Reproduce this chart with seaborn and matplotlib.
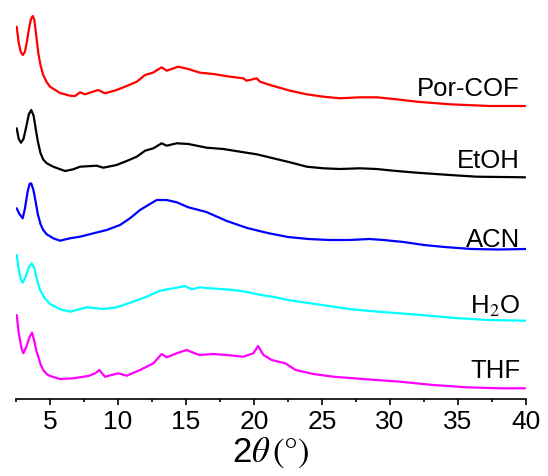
import numpy as np
import pandas as pd
import matplotlib
matplotlib.use("Agg")
import matplotlib.pyplot as plt
import seaborn as sns
from matplotlib.ticker import MultipleLocator

# ---- PXRD patterns (2-theta in degrees, intensity in a.u. above each trace's offset) ----
por_cof_2theta = [2.55, 2.7, 2.85, 3.0, 3.15, 3.3, 3.45, 3.6, 3.73, 3.85, 4.0, 4.15, 4.3,
                  4.5, 4.75, 5.0, 5.74, 6.47, 6.84, 7.21, 7.57, 8.55, 9.04,
                  9.9, 10.64, 11.38, 11.99, 12.57, 13.21, 13.58, 14.43, 15.17, 16.03, 17.0,
                  18.24, 19.21, 19.46, 20.2, 20.44, 21.18, 22.65, 23.88, 25.1, 26.32, 27.79,
                  29.02, 30.49, 31.96, 34.41, 37.35, 39.93]
por_cof_int = [82.3, 66.0, 57.0, 54.0, 57.0, 67.0, 80.0, 90.0, 93.0, 89.0, 72.0, 55.0, 44.0,
               34.0, 27.0, 22.3, 16.0, 13.3, 13.0, 16.7, 14.7, 19.0, 15.7,
               19.0, 23.0, 27.3, 34.0, 36.3, 41.7, 38.3, 42.3, 40.0, 36.3, 35.0,
               32.3, 30.7, 28.3, 30.7, 27.3, 24.0, 18.3, 14.7, 12.3, 10.7, 11.7,
               11.7, 9.7, 7.3, 4.7, 3.0, 3.0]

etoh_2theta = [2.55, 2.7, 2.87, 3.05, 3.25, 3.45, 3.62, 3.8, 3.95, 4.1, 4.3, 4.5, 4.76,
               5.24, 6.1, 6.71, 7.21, 8.43, 8.92, 9.9,
               10.64, 11.38, 11.99, 12.6, 13.21, 13.58, 14.32, 15.17, 15.54, 16.52, 17.74,
               18.97, 20.2, 21.42, 22.65, 23.88, 25.1, 26.32, 27.79, 29.02, 30.24, 31.96,
               34.41, 36.38, 39.93]
etoh_int = [50.7, 40.0, 36.3, 40.0, 52.0, 65.0, 69.0, 63.0, 50.0, 38.0, 26.0, 19.5, 15.7,
            12.3, 8.0, 9.7, 12.3, 13.3, 11.3, 14.0,
            18.0, 22.3, 28.3, 30.7, 35.7, 33.3, 35.7, 35.0, 34.0, 31.3, 30.0,
            27.3, 24.7, 20.7, 16.7, 12.3, 10.7, 10.0, 10.7, 10.0, 8.3, 6.3,
            4.0, 2.3, 1.7]

acn_2theta = [2.55, 2.75, 2.99, 3.15, 3.35, 3.5, 3.62, 3.78, 3.95, 4.1, 4.3, 4.5, 4.76,
              5.24, 5.74, 6.47, 7.21, 8.19, 9.17, 10.15,
              10.88, 11.62, 12.35, 12.85, 13.58, 14.32, 15.17, 16.5, 18.0, 19.5, 21.0,
              22.5, 24.0, 25.5, 27.0, 28.5, 29.5, 31.0, 32.5, 34.0, 36.0, 38.0, 40.0]
acn_int = [45.7, 40.0, 35.7, 45.0, 62.0, 70.0, 70.7, 64.0, 52.0, 40.0, 30.0, 24.0, 19.7,
           15.7, 13.3, 15.7, 17.3, 20.7, 24.0, 29.0,
           35.7, 44.0, 50.0, 54.0, 54.0, 51.7, 46.7, 42.0, 33.0, 26.0, 21.0,
           17.0, 15.0, 14.0, 14.0, 15.0, 14.0, 12.0, 9.0, 7.0, 5.0, 4.5, 5.0]

h2o_2theta = [2.55, 2.7, 2.85, 2.99, 3.2, 3.45, 3.65, 3.85, 4.05, 4.26, 4.6, 5.0, 5.74,
              6.47, 7.7, 8.92, 9.9, 11.12, 12.11, 13.09,
              14.07, 14.93, 15.42, 16.03, 16.5, 17.5, 18.5, 19.5, 20.5, 21.5, 22.5, 24.0,
              25.5, 27.0, 28.5, 29.9, 32.3, 34.8, 37.2, 40.0]
h2o_int = [69.0, 55.0, 45.0, 41.3, 47.0, 57.0, 60.7, 56.0, 44.0, 34.0, 26.0, 20.0, 14.7,
           12.3, 16.7, 15.0, 16.7, 22.3, 27.3, 33.3,
           35.7, 38.0, 34.7, 36.7, 36.0, 35.0, 34.0, 32.0, 29.0, 27.0, 24.0, 21.0,
           18.0, 15.0, 13.0, 11.5, 9.0, 6.0, 4.0, 3.3]

thf_2theta = [2.55, 2.7, 2.9, 3.04, 3.25, 3.5, 3.68, 3.85, 4.0, 4.14, 4.3, 4.5, 4.75, 5.0,
              5.74, 6.72, 7.81, 8.3, 8.62, 9.04, 10.02, 10.64,
              11.62, 12.6, 13.21, 13.58, 14.43, 15.05, 15.78, 16.03, 17.0, 17.99, 19.21,
              19.95, 20.3, 20.7, 21.3, 22.3, 23.06, 24.36, 25.83, 28.29, 30.74, 33.18,
              35.64, 38.09, 39.93]
thf_int = [84.0, 66.0, 51.0, 45.7, 52.0, 62.0, 66.3, 58.0, 48.0, 42.3, 35.0, 29.0, 25.0, 23.0,
           20.0, 20.7, 23.0, 25.5, 29.0, 22.3, 25.7, 23.3,
           29.0, 35.7, 45.0, 41.7, 46.3, 49.0, 45.0, 44.0, 45.0, 44.0, 42.3,
           45.7, 53.0, 44.0, 39.0, 35.7, 29.0, 25.0, 22.3, 19.7, 17.3, 14.0,
           11.7, 10.7, 10.7]

samples = ["Por-COF", "EtOH", "ACN", "H$_2$O", "THF"]
offsets = [290, 220, 145, 75, 0]
label_heights = [303, 231, 152, 86, 21]
colors = ["#FF0000", "#000000", "#0000FF", "#00FFFF", "#FF00FF"]
angles = [por_cof_2theta, etoh_2theta, acn_2theta, h2o_2theta, thf_2theta]
intensities = [por_cof_int, etoh_int, acn_int, h2o_int, thf_int]

frames = []
for name, tt, inten, off in zip(samples, angles, intensities, offsets):
    frames.append(pd.DataFrame({"two_theta": tt,
                                "intensity": np.asarray(inten) + off,
                                "sample": name}))
data = pd.concat(frames, ignore_index=True)

sns.set_theme(style="white")
plt.rcParams["font.family"] = ["Liberation Sans", "DejaVu Sans"]
plt.rcParams["mathtext.fontset"] = "stix"
plt.rcParams["text.color"] = "black"
plt.rcParams["axes.labelcolor"] = "black"
plt.rcParams["xtick.color"] = "black"
plt.rcParams["xtick.labelcolor"] = "black"

fig = plt.figure(figsize=(5.48, 4.76), dpi=100)
ax = fig.add_axes([16 / 548, 1 - 399 / 476, 510 / 548, 399 / 476])

for name, col in zip(samples, colors):
    sub = data[data["sample"] == name]
    sns.lineplot(data=sub, x="two_theta", y="intensity", color=col, lw=1.6,
                 ax=ax, legend=False, sort=False)

for name, yl in zip(samples, label_heights):
    ax.text(39.56, yl, name, ha="right", va="baseline", fontsize=18.5, color="black")

ax.set_xlim(2.5, 40)
ax.set_ylim(0, 399)
for side in ["top", "right", "left"]:
    ax.spines[side].set_visible(False)
ax.spines["bottom"].set_linewidth(1.2)
ax.spines["bottom"].set_color("black")
ax.set_yticks([])
ax.set_ylabel("")
ax.xaxis.set_major_locator(MultipleLocator(5))
ax.xaxis.set_minor_locator(MultipleLocator(2.5))
ax.tick_params(axis="x", which="major", direction="out", length=4, width=1.2,
               labelsize=19, pad=4, bottom=True, color="black", labelcolor="black")
ax.tick_params(axis="x", which="minor", direction="out", length=2.5, width=1.2,
               bottom=True, color="black")
ax.set_xlabel(r"2$\theta\,\mathrm{(°)}$", fontsize=25, labelpad=1, color="black")

fig.savefig("out.png", dpi=100)
